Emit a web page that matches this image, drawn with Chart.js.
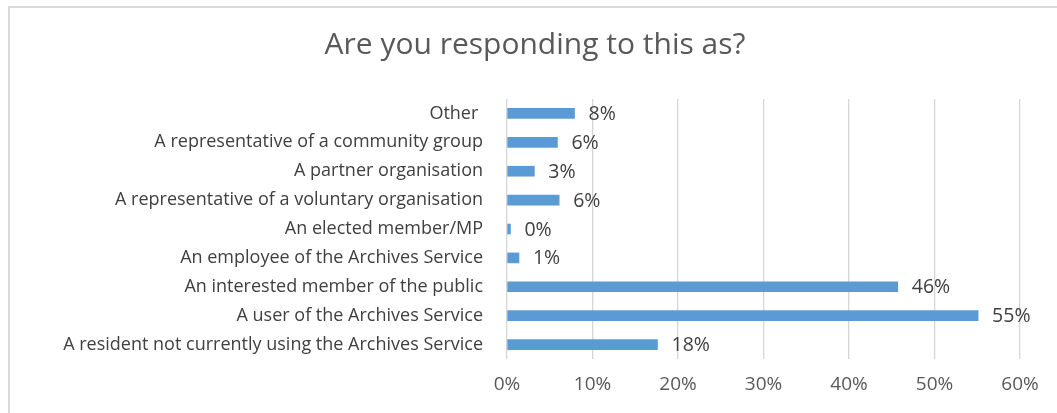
<!DOCTYPE html>
<html>
<head>
<meta charset="utf-8">
<script src="https://cdn.jsdelivr.net/npm/chart.js@4.4.1/dist/chart.umd.min.js"></script>
<style>
  html, body { margin: 0; padding: 0; background: #fff; overflow: hidden; }
  #wrap { position: relative; width: 1057px; height: 413px; overflow: hidden; }
  #frame { position: absolute; left: 8px; top: 6px; width: 1100px; height: 500px; border: 1px solid #d9d9d9; border-width: 2px 0 0 2px; }
  #chart { position: absolute; left: 0; top: 0; }
</style>
</head>
<body>
<div id="wrap">
  <div id="frame"></div>
  <canvas id="chart" width="1057" height="413"></canvas>
</div>
<script>
const categories = [
  'Other ',
  'A representative of a community group',
  'A partner organisation',
  'A representative of a voluntary organisation',
  'An elected member/MP',
  'An employee of the Archives Service',
  'An interested member of the public',
  'A user of the Archives Service',
  'A resident not currently using the Archives Service'
];
const shares = [7.9, 5.9, 3.2, 6.1, 0.4, 1.4, 45.7, 55.1, 17.6];
const shareLabels = ['8%', '6%', '3%', '6%', '0%', '1%', '46%', '55%', '18%'];
const xTicks = [0, 10, 20, 30, 40, 50, 60];

const fontFamily = '"Open Sans", "Noto Sans", sans-serif';

// draws the percentage next to each bar end
const barValues = {
  id: 'barValues',
  afterDatasetsDraw(chart) {
    const ctx = chart.ctx;
    const meta = chart.getDatasetMeta(0);
    ctx.save();
    ctx.font = '19.5px ' + fontFamily;
    ctx.fillStyle = '#404040';
    ctx.textBaseline = 'middle';
    ctx.textAlign = 'left';
    meta.data.forEach((bar, i) => {
      ctx.fillText(shareLabels[i], bar.x + 14, bar.y + 1);
    });
    ctx.restore();
  }
};

new Chart(document.getElementById('chart').getContext('2d'), {
  type: 'bar',
  data: {
    labels: categories,
    datasets: [{
      data: shares,
      backgroundColor: '#5b9bd5',
      borderWidth: 0,
      barThickness: 10
    }]
  },
  options: {
    indexAxis: 'y',
    responsive: false,
    animation: false,
    // left padding only shifts the title centre; y axis width makes up the rest
    layout: { padding: { left: 50, right: 37, top: 0, bottom: 0 } },
    plugins: {
      legend: { display: false },
      tooltip: { enabled: false },
      title: {
        display: true,
        text: 'Are you responding to this as?',
        color: '#595959',
        font: { family: fontFamily, size: 30, weight: 'normal', lineHeight: 1.2 },
        padding: { top: 27, bottom: 36 }
      }
    },
    scales: {
      x: {
        min: 0,
        max: 60,
        afterBuildTicks: s => { s.ticks = xTicks.map(v => ({ value: v })); },
        afterFit: s => { s.height = 54; },
        grid: { color: '#d6d6d6', lineWidth: 1.3, drawTicks: false },
        border: { display: false },
        ticks: {
          padding: 14,
          color: '#595959',
          font: { family: fontFamily, size: 19 },
          callback: v => v + '%'
        }
      },
      y: {
        afterFit: s => { s.width = 457; },
        grid: { display: false, drawTicks: false },
        border: { display: false },
        ticks: {
          padding: 24,
          color: '#404040',
          font: { family: fontFamily, size: 18 }
        }
      }
    }
  },
  plugins: [barValues]
});
</script>
</body>
</html>
